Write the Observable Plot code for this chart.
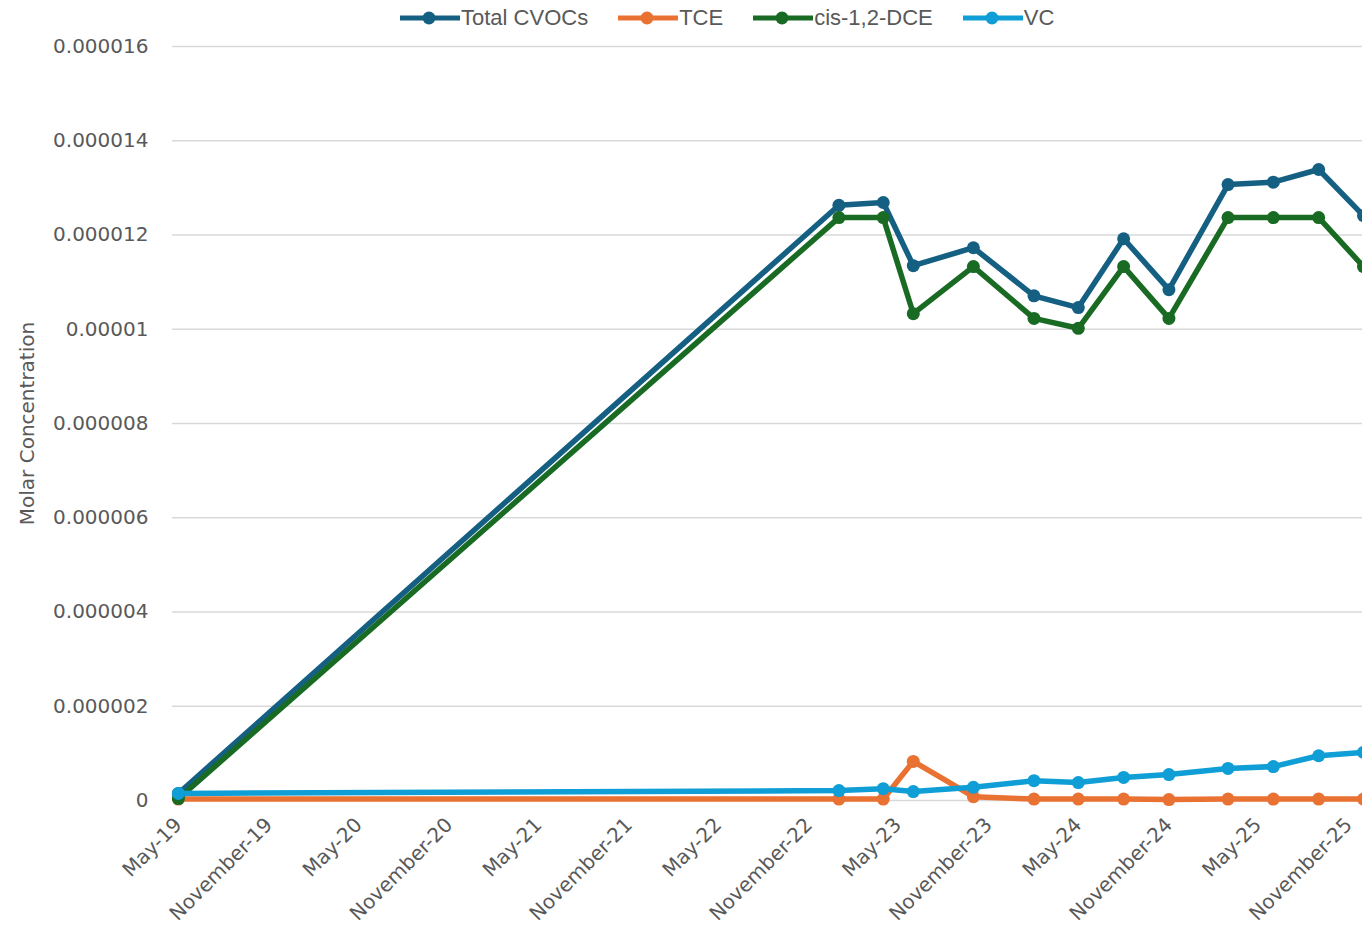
<!DOCTYPE html>
<html>
<head>
<meta charset="utf-8">
<script src="https://cdn.jsdelivr.net/npm/d3@7"></script>
<script src="https://cdn.jsdelivr.net/npm/@observablehq/plot@0.6"></script>
<style>
  html, body { margin: 0; padding: 0; background: #ffffff; overflow: hidden; }
  #legend { position: relative; z-index: 2; display: flex; align-items: center; height: 36px; margin-left: 400px; gap: 30px;
            font-family: "Liberation Sans", Arial, sans-serif; font-size: 22px; color: #595959; }
  .item { display: flex; align-items: center; }
  .item span { margin-left: 1px; }
  #chart { margin-top: -16px; position: relative; z-index: 1; }
</style>
</head>
<body>
<div id="legend"></div>
<div id="chart"></div>
<script>
// ---- data ----
const seriesNames = ["Total CVOCs", "TCE", "cis-1,2-DCE", "VC"];
const seriesColors = ["#156082", "#E97132", "#196B24", "#0F9ED5"];
const sampleDates = ["2019-05-01", "2023-01-01", "2023-04-01", "2023-06-01", "2023-10-01", "2024-02-01",
                     "2024-05-01", "2024-08-01", "2024-11-01", "2025-03-01", "2025-06-01", "2025-09-01", "2025-12-01"];
const totalCVOCs = [0.00000015, 0.00001263, 0.00001269, 0.00001135, 0.00001173, 0.00001071,
                    0.00001046, 0.00001192, 0.00001084, 0.00001307, 0.00001312, 0.00001339, 0.00001241];
const tce        = [0.00000003, 0.00000003, 0.00000003, 0.00000083, 0.00000008, 0.00000003,
                    0.00000003, 0.00000003, 0.00000002, 0.00000003, 0.00000003, 0.00000003, 0.00000003];
const cisDCE     = [0.00000004, 0.00001237, 0.00001237, 0.00001033, 0.00001133, 0.00001023,
                    0.00001002, 0.00001133, 0.00001023, 0.00001237, 0.00001237, 0.00001237, 0.00001133];
const vc         = [0.00000015, 0.00000021, 0.00000025, 0.00000019, 0.00000028, 0.00000042,
                    0.00000038, 0.00000049, 0.00000055, 0.00000068, 0.00000072, 0.00000095, 0.00000102];
const xTickDates = ["2019-05-01", "2019-11-01", "2020-05-01", "2020-11-01", "2021-05-01", "2021-11-01", "2022-05-01",
                    "2022-11-01", "2023-05-01", "2023-11-01", "2024-05-01", "2024-11-01", "2025-05-01", "2025-11-01"];
const yTicks = [0, 0.000002, 0.000004, 0.000006, 0.000008, 0.00001, 0.000012, 0.000014, 0.000016];
const yLabel = "Molar Concentration";

// ---- build table ----
const seriesValues = [totalCVOCs, tce, cisDCE, vc];
const parse = d3.utcParse("%Y-%m-%d");
const rows = [];
seriesNames.forEach((s, i) => {
  sampleDates.forEach((d, j) => rows.push({series: s, date: parse(d), value: seriesValues[i][j]}));
});

// ---- legend ----
const legend = document.getElementById("legend");
seriesNames.forEach((s, i) => {
  const item = document.createElement("div");
  item.className = "item";
  item.innerHTML = `<svg width="60" height="20"><line x1="0" x2="60" y1="10" y2="10" stroke="${seriesColors[i]}" stroke-width="5"/><circle cx="29" cy="10" r="6.5" fill="${seriesColors[i]}"/></svg><span>${s}</span>`;
  legend.appendChild(item);
});

// ---- chart ----
const marks = [
  Plot.gridY(yTicks, {stroke: "#d9d9d9", strokeOpacity: 1, strokeWidth: 1.5}),
  Plot.axisY(yTicks, {
    tickSize: 0, tickPadding: 24,
    tickFormat: d => d === 0 ? "0" : String(+d.toFixed(6)),
    label: yLabel, labelAnchor: "center", labelArrow: "none", labelOffset: 153,
    fill: "#595959", fontSize: 20
  }),
  Plot.axisX(xTickDates.map(parse), {
    tickSize: 0, tickPadding: 21, tickRotate: -45,
    tickFormat: d3.utcFormat("%B-%y"), label: null, fill: "#595959"
  })
];
seriesNames.forEach((s, i) => {
  const data = rows.filter(r => r.series === s);
  marks.push(Plot.line(data, {x: "date", y: "value", stroke: seriesColors[i], strokeWidth: 5.5,
                              strokeLinejoin: "round", strokeLinecap: "round"}));
  marks.push(Plot.dot(data, {x: "date", y: "value", fill: seriesColors[i], r: 6.5}));
});

const chart = Plot.plot({
  width: 1362,
  height: 909,
  marginLeft: 172,
  marginRight: 0,
  marginTop: 26,
  marginBottom: 129,
  style: {fontFamily: "DejaVu Sans, sans-serif", fontSize: "20px", color: "#595959", background: "transparent", overflow: "hidden"},
  x: {type: "utc", domain: [parse("2019-04-19"), parse("2025-11-29")]},
  y: {domain: [0, 0.000016]},
  marks
});
document.getElementById("chart").appendChild(chart);
</script>
</body>
</html>
